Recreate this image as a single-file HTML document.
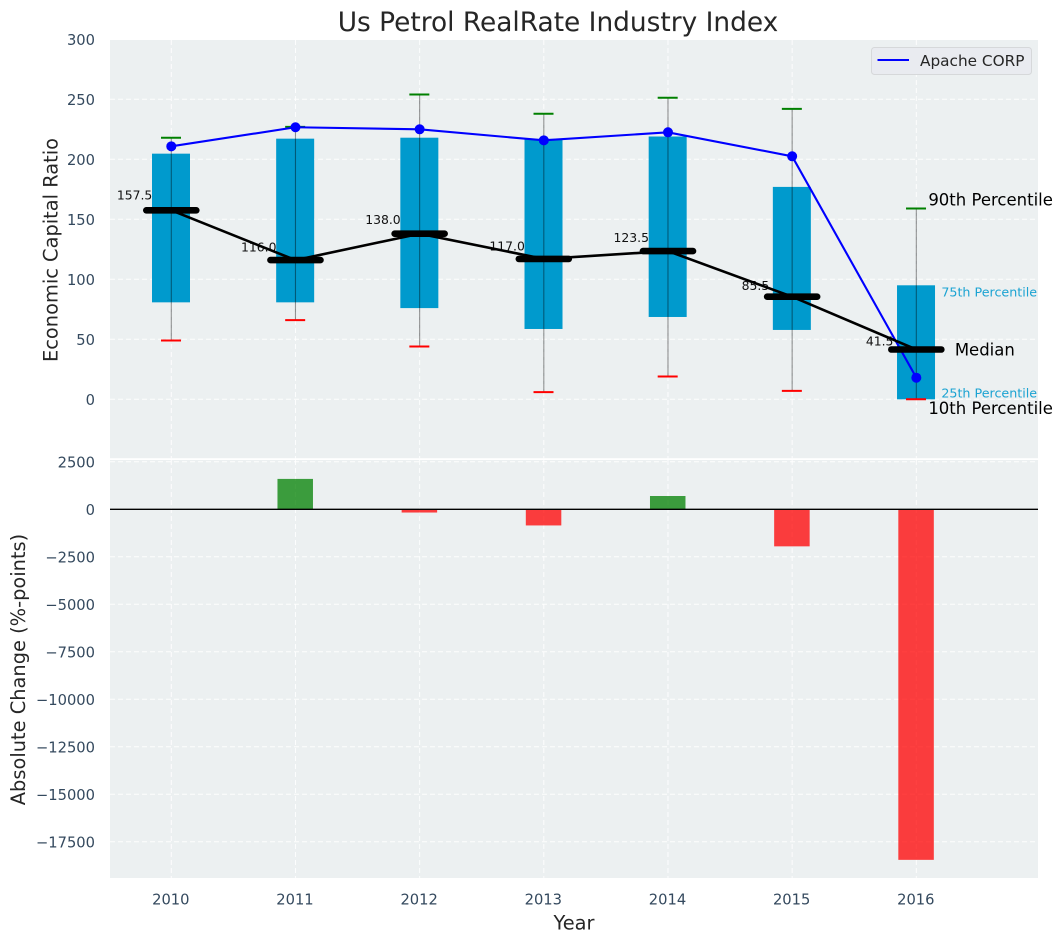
<!DOCTYPE html>
<html lang="en">
<head>
<meta charset="utf-8">
<title>Us Petrol RealRate Industry Index</title>
<style>
html,body{margin:0;padding:0;background:#fff;}
svg{display:block;font-family:"DejaVu Sans","Liberation Sans",sans-serif;}
</style>
</head>
<body>
<svg id="chart" xmlns="http://www.w3.org/2000/svg" width="1063" height="942" viewBox="0 0 1063 942">
  <rect x="0" y="0" width="1063" height="942" fill="#ffffff"/>
  <text x="558" y="31" text-anchor="middle" font-size="26.4" fill="#262626">Us Petrol RealRate Industry Index</text>
  <rect x="110" y="40" width="928" height="418.2" fill="#ecf0f1"/>
  <rect x="110" y="460" width="928" height="418" fill="#ecf0f1"/>
  <g id="grid"></g>
  <g id="bars"></g>
  <g id="boxes"></g>
  <g id="whiskers"></g>
  <g id="labels"></g>
  <g id="apache"></g>
  <g id="median"></g>
  <line x1="110" x2="1038" y1="509.3" y2="509.3" stroke="#000" stroke-width="1.4"/>
  <g id="ticks"></g>
  <g id="notes"></g>
  <text x="574" y="929.5" text-anchor="middle" font-size="19.4" fill="#262626">Year</text>
  <text transform="translate(57.5,250) rotate(-90)" text-anchor="middle" font-size="19.4" fill="#262626">Economic Capital Ratio</text>
  <text transform="translate(25,669.5) rotate(-90)" text-anchor="middle" font-size="19.4" fill="#262626">Absolute Change (%-points)</text>
  <g>
    <rect x="871.5" y="47.5" width="160" height="27" rx="3" fill="#e9ebf0" stroke="#d6d8da" stroke-width="1"/>
    <line x1="877.5" x2="909" y1="60" y2="60" stroke="#0000ff" stroke-width="2"/>
    <text x="920" y="66" font-size="15.3" fill="#262626">Apache CORP</text>
  </g>
</svg>
<script>
const years = [2010, 2011, 2012, 2013, 2014, 2015, 2016];
const p90 = [218, 227, 254, 238, 251.3, 242, 159];
const p75 = [204.7, 217.2, 218, 217, 219, 177, 95];
const medianValues = [157.5, 116.0, 138.0, 117.0, 123.5, 85.5, 41.5];
const p25 = [80.8, 80.8, 76, 58.6, 68.6, 57.8, 0];
const p10 = [49, 66, 44, 6, 19, 7, 0];
const apacheValues = [210.8, 226.7, 225, 215.8, 222.5, 202.5, 18];
const changeValues = [0, 1600, -170, -850, 700, -1950, -18450];
const topTicks = [0, 50, 100, 150, 200, 250, 300];
const bottomTicks = [2500, 0, -2500, -5000, -7500, -10000, -12500, -15000, -17500];

const SVGNS = 'http://www.w3.org/2000/svg';
const xScale = v => 171.3 + (v - 2010) * 124.17;
const yTop = v => 399.3 - v * 1.2;
const yBottom = v => 509.3 - v * 0.019;

function mk(parentId, tag, attrs, name, text) {
  const el = document.createElementNS(SVGNS, tag);
  for (const k in attrs) el.setAttribute(k, attrs[k]);
  
  
  if (text !== undefined) el.textContent = text;
  document.getElementById(parentId).appendChild(el);
  return el;
}
const fmt = v => String(v).replace('-', '\u2212');

topTicks.forEach(t => {
  if (t < 300) mk('grid', 'line', {x1: 110, x2: 1038, y1: yTop(t), y2: yTop(t), stroke: '#fff', 'stroke-width': 1, 'stroke-dasharray': '5 3', opacity: 0.9}, 'grid-line-top-' + t);
  mk('ticks', 'text', {x: 95, y: yTop(t) + 5.9, 'text-anchor': 'end', 'font-size': 14.7, fill: '#34495e'}, 'y-tick-top-' + t, fmt(t));
});
bottomTicks.forEach(t => {
  mk('grid', 'line', {x1: 110, x2: 1038, y1: yBottom(t), y2: yBottom(t), stroke: '#fff', 'stroke-width': 1, 'stroke-dasharray': '5 3', opacity: 0.9}, 'grid-line-bottom-' + t);
  mk('ticks', 'text', {x: 95, y: yBottom(t) + 5.7, 'text-anchor': 'end', 'font-size': 14.7, fill: '#34495e'}, 'y-tick-bottom-' + t, fmt(t));
});
years.forEach(y => {
  const x = xScale(y);
  mk('grid', 'line', {x1: x, x2: x, y1: 40, y2: 458.2, stroke: '#fff', 'stroke-width': 1, 'stroke-dasharray': '5 3', opacity: 0.9}, 'grid-line-x-top-' + y);
  mk('grid', 'line', {x1: x, x2: x, y1: 460, y2: 878, stroke: '#fff', 'stroke-width': 1, 'stroke-dasharray': '5 3', opacity: 0.9}, 'grid-line-x-bottom-' + y);
  mk('ticks', 'text', {x: x - 0.5, y: 904.5, 'text-anchor': 'middle', 'font-size': 14.7, fill: '#34495e'}, 'x-tick-' + y, y);
});

years.forEach((y, i) => {
  const x = xScale(y);
  const v = changeValues[i];
  const y0 = yBottom(Math.max(v, 0));
  const y1 = yBottom(Math.min(v, 0));
  mk('bars', 'rect', {x: x - 18, y: y0, width: 35.5, height: y1 - y0, fill: v >= 0 ? '#008000' : '#ff0000', 'fill-opacity': 0.75}, 'change-bar-' + y);

  mk('boxes', 'rect', {x: x - 19.3, y: yTop(p75[i]), width: 38, height: yTop(p25[i]) - yTop(p75[i]), fill: '#009acd'}, 'interquartile-box-' + y);

  mk('whiskers', 'line', {x1: x, x2: x, y1: yTop(p90[i]), y2: yTop(p10[i]), stroke: '#000', 'stroke-opacity': 0.42, 'stroke-width': 1.1}, 'whisker-' + y);
  mk('whiskers', 'line', {x1: x - 10.3, x2: x + 9.7, y1: yTop(p90[i]), y2: yTop(p90[i]), stroke: '#008000', 'stroke-width': 2}, 'p90-cap-' + y);
  mk('whiskers', 'line', {x1: x - 10.3, x2: x + 9.7, y1: yTop(p10[i]), y2: yTop(p10[i]), stroke: '#ff0000', 'stroke-width': 2}, 'p10-cap-' + y);

  mk('labels', 'text', {x: x - 36.7, y: yTop(medianValues[i]) - 1.5 - medianValues[i] * 0.06, 'text-anchor': 'middle', 'font-size': 12.4, fill: '#111'}, 'median-label-' + y, medianValues[i].toFixed(1));
});

mk('apache', 'polyline', {points: years.map((y, i) => xScale(y) + ',' + yTop(apacheValues[i])).join(' '), fill: 'none', stroke: '#0000ff', 'stroke-width': 2.1}, 'apache-line');
years.forEach((y, i) => {
  mk('apache', 'circle', {cx: xScale(y), cy: yTop(apacheValues[i]), r: 5, fill: '#0000ff'}, 'apache-point-' + y);
});

mk('median', 'polyline', {points: years.map((y, i) => xScale(y) + ',' + yTop(medianValues[i])).join(' '), fill: 'none', stroke: '#000', 'stroke-width': 2.6}, 'median-line');
years.forEach((y, i) => {
  const x = xScale(y);
  mk('median', 'line', {x1: x - 25, x2: x + 25, y1: yTop(medianValues[i]), y2: yTop(medianValues[i]), stroke: '#000', 'stroke-width': 6.6, 'stroke-linecap': 'round'}, 'median-marker-' + y);
});

const last = years.length - 1;
const lastX = xScale(years[last]);
mk('notes', 'text', {x: lastX + 12, y: yTop(p90[last]) - 3, 'font-size': 16.5, fill: '#000'}, 'annotation-90th', '90th Percentile');
mk('notes', 'text', {x: lastX + 25, y: yTop(p75[last]) + 11, 'font-size': 12.7, fill: '#1ba3d2'}, 'annotation-75th', '75th Percentile');
mk('notes', 'text', {x: lastX + 38.5, y: yTop(medianValues[last]) + 6, 'font-size': 16.5, fill: '#000'}, 'annotation-median', 'Median');
mk('notes', 'text', {x: lastX + 25, y: yTop(p25[last]) - 2, 'font-size': 12.7, fill: '#1ba3d2'}, 'annotation-25th', '25th Percentile');
mk('notes', 'text', {x: lastX + 12, y: yTop(p10[last]) + 14.5, 'font-size': 16.5, fill: '#000'}, 'annotation-10th', '10th Percentile');
</script>
</body>
</html>
